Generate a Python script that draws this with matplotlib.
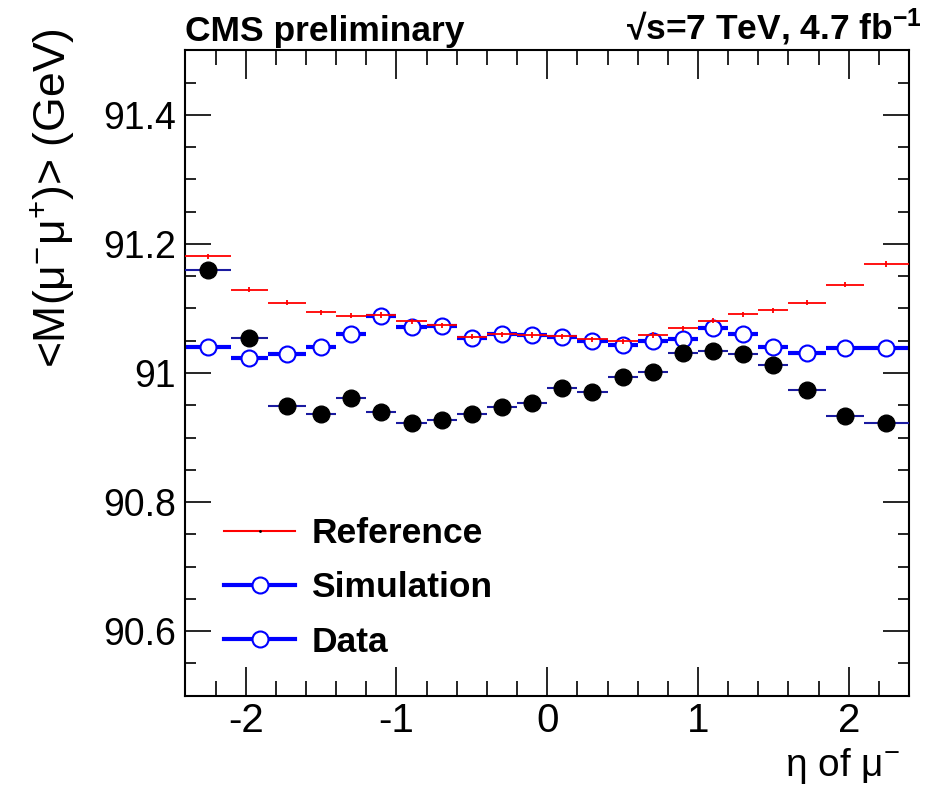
import numpy as np
import matplotlib
matplotlib.use("Agg")
import matplotlib.pyplot as plt
from matplotlib.lines import Line2D

plt.rcParams['font.family'] = ['Liberation Sans', 'DejaVu Sans']
plt.rcParams['mathtext.fontset'] = 'custom'
plt.rcParams['mathtext.rm'] = 'Liberation Sans'
plt.rcParams['mathtext.it'] = 'Liberation Sans'
plt.rcParams['mathtext.bf'] = 'Liberation Sans:bold'
plt.rcParams['axes.unicode_minus'] = False

# eta bins of the mu-
edges = [-2.4, -2.1, -1.85, -1.6, -1.4, -1.2, -1.0, -0.8, -0.6, -0.4, -0.2, 0.0,
         0.2, 0.4, 0.6, 0.8, 1.0, 1.2, 1.4, 1.6, 1.85, 2.1, 2.4]

reference = [91.181, 91.129, 91.109, 91.094, 91.089, 91.090, 91.080, 91.074, 91.056, 91.060, 91.059,
             91.057, 91.052, 91.049, 91.059, 91.069, 91.081, 91.091, 91.097, 91.109, 91.137, 91.169]
simulation = [91.041, 91.024, 91.030, 91.040, 91.060, 91.089, 91.072, 91.073, 91.055, 91.060, 91.059,
              91.056, 91.050, 91.044, 91.050, 91.053, 91.070, 91.060, 91.041, 91.031, 91.038, 91.038]
data = [91.160, 91.055, 90.949, 90.936, 90.962, 90.940, 90.922, 90.927, 90.937, 90.948, 90.953,
        90.976, 90.970, 90.994, 91.002, 91.031, 91.034, 91.030, 91.012, 90.974, 90.934, 90.922]
ref_err = [0.004] * 22

edges = np.array(edges)
centers = (edges[1:] + edges[:-1]) / 2
halfw = (edges[1:] - edges[:-1]) / 2

fig = plt.figure(figsize=(9.46, 7.9), dpi=100)
ax = fig.add_axes([0.196, 0.1196, 0.765, 0.8165])

# simulation: open blue circles, thick bars
ax.errorbar(centers, simulation, xerr=halfw, fmt='o', ms=11.5, mfc='white', mec='blue', mew=1.5,
            ecolor='blue', elinewidth=3, capsize=0, zorder=2)
# data: black dots, thin dark blue bars
ax.errorbar(centers, data, xerr=halfw, fmt='o', ms=12, mfc='black', mec='black',
            ecolor='#1a1aa0', elinewidth=1.5, capsize=0, zorder=3)
# reference: red bars with small errors
ax.errorbar(centers, reference, xerr=halfw, yerr=ref_err, fmt='none',
            ecolor='red', elinewidth=1.3, capsize=0, zorder=4)

ax.set_xlim(-2.4, 2.4)
ax.set_ylim(90.5, 91.5)
ax.set_xticks([-2, -1, 0, 1, 2])
ax.set_xticklabels(['-2', '-1', '0', '1', '2'])
ax.set_xticks(np.arange(-2.4, 2.41, 0.2), minor=True)
ax.set_yticks([90.6, 90.8, 91.0, 91.2, 91.4])
ax.set_yticklabels(['90.6', '90.8', '91', '91.2', '91.4'])
ax.set_yticks(np.arange(90.5, 91.501, 0.05), minor=True)
ax.tick_params(axis='both', which='both', direction='in', top=True, right=True, width=1.2)
ax.tick_params(axis='x', which='major', length=21, pad=5, labelsize=29)
ax.tick_params(axis='x', which='minor', length=11)
ax.tick_params(axis='y', which='major', length=19, pad=7, labelsize=27)
ax.tick_params(axis='y', which='minor', length=8)
for s in ax.spines.values():
    s.set_linewidth(1.5)

fig.text(52 / 946, 1 - 28 / 790, r'<M(μ$^{-}$μ$^{+}$)> (GeV)', rotation=90,
         ha='center', va='top', fontsize=32)
fig.text(900 / 946, 1 - 766 / 790, r'η of μ$^{-}$', ha='right', va='center', fontsize=28)

fig.text(0.196, 1 - 48 / 790, 'CMS preliminary', ha='left', va='bottom', fontsize=25.5,
         fontweight='bold')
fig.text(922 / 946, 1 - 48 / 790, r'√s=7 TeV, 4.7 fb$^{\mathbf{-1}}$', ha='right', va='bottom',
         fontsize=25.5, fontweight='bold')

handles = [
    Line2D([], [], color='red', lw=1.5, marker='.', ms=2, mfc='black', mec='black'),
    Line2D([], [], color='blue', lw=3, marker='o', ms=11.5, mfc='white', mec='blue', mew=1.5),
    Line2D([], [], color='blue', lw=3, marker='o', ms=11.5, mfc='white', mec='blue', mew=1.5),
]
leg = ax.legend(handles, ['Reference', 'Simulation', 'Data'], loc='center left',
                bbox_to_anchor=(0.054, 0.167), frameon=False, borderpad=0, borderaxespad=0,
                handlelength=2.0, handletextpad=0.45, labelspacing=0.6,
                prop={'size': 25.5, 'weight': 'bold'})

fig.savefig('out.png', dpi=100)
